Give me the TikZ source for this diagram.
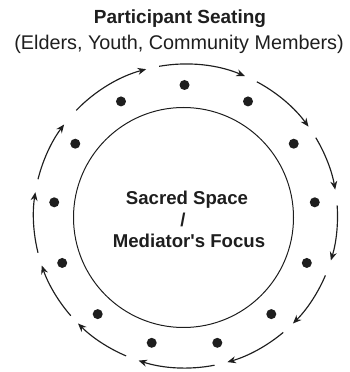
\documentclass[tikz,border=0pt]{standalone}
\usepackage{fontspec}
\setmainfont{Liberation Sans}
\usetikzlibrary{arrows.meta,calc}
\definecolor{ink}{HTML}{1E1E1E}
\tikzset{
  flowarc/.style={draw=ink, line width=1.15pt, -{Stealth[length=8.5pt,width=7pt]}},
  seat/.style={circle, fill=ink, inner sep=0pt, minimum size=10pt},
  ring/.style={draw=ink, line width=1pt},
  titletext/.style={anchor=base, text=ink, inner sep=0pt},
}
\begin{document}
\begin{tikzpicture}[x=1pt,y=1pt]
\useasboundingbox (0,0) rectangle (350,372);
\coordinate (Cout) at (185.5,156);
\coordinate (Cin) at (183.5,154.5);
\coordinate (Cdot) at (184.5,156);
% titles
\node[titletext, font=\fontsize{19}{22}\selectfont\bfseries] (title) at (180,348) {Participant Seating};
\node[titletext, font=\fontsize{19.8}{23}\selectfont] (subtitle) at (179,322) {(Elders, Youth, Community Members)};
% inner circle
\node[ring, circle, minimum size=220pt, inner sep=0pt] (inner) at (Cin) {};
% centre text
\node[titletext, font=\fontsize{18.6}{21}\selectfont\bfseries] (sacred) at (187,167) {Sacred Space};
\node[titletext, font=\fontsize{18.6}{21}\selectfont\bfseries] (slash) at (183,145.5) {/};
\node[titletext, font=\fontsize{18.6}{21}\selectfont\bfseries] (focus) at (189,124) {Mediator\textquotesingle s Focus};
% seats
\foreach \a [count=\i] in {90,61,33.5,6,-21,-48.5,-75.5,119,146.5,174,201,228.5,255.5}
  \node[seat] (d\i) at ($(Cdot)+(\a:131)$) {};
% circulation arcs (clockwise)
\foreach \s/\e in {100/67,62/36,31/10,4/-17,-23/-45,-50/-74,-79/-108,-113/-135,-139/-161,-166/-189,-194/-217,-224/-255}
  \draw[flowarc] ([shift={(\s:152)}]Cout) arc[start angle=\s, end angle=\e, radius=152];
\end{tikzpicture}
\end{document}
